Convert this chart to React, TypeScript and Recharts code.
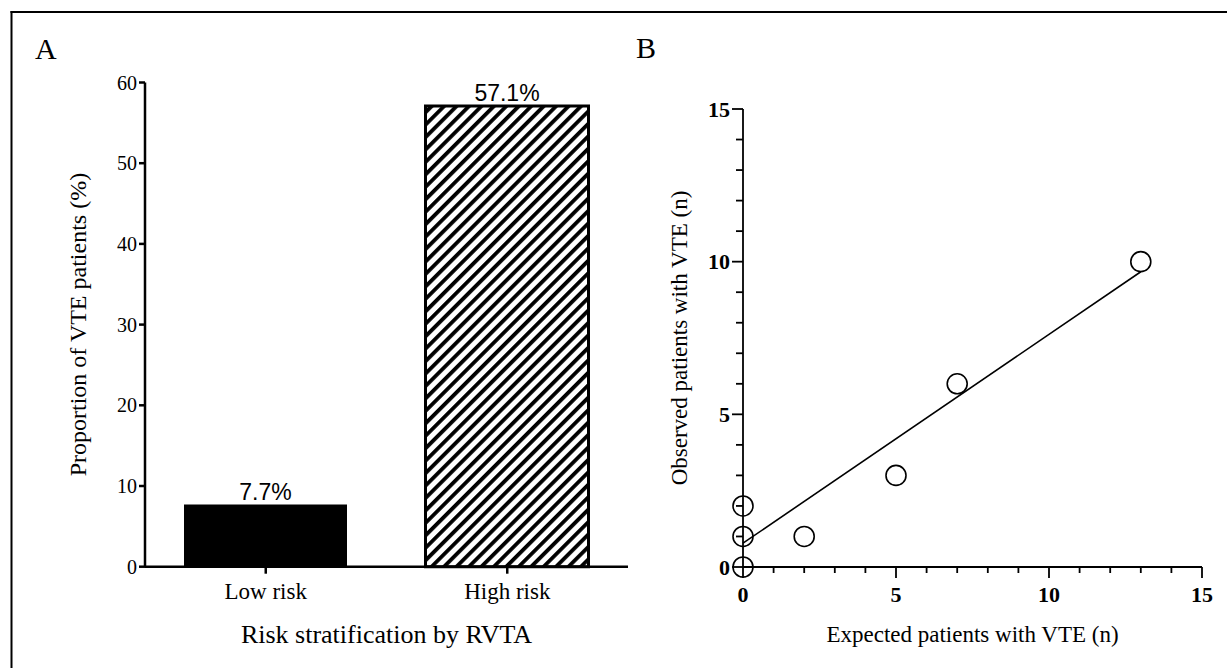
import React from 'react';
import {
  BarChart,
  Bar,
  XAxis,
  YAxis,
  Cell,
  LabelList,
  ScatterChart,
  Scatter,
  ReferenceLine,
} from 'recharts';

// ---- Panel A data ----
const riskCategories = ['Low risk', 'High risk'];
const vteProportion = [7.7, 57.1];
const proportionLabels = ['7.7%', '57.1%'];
const proportionTicks = [0, 10, 20, 30, 40, 50, 60];

// ---- Panel B data ----
const expectedVTE = [0, 0, 0, 2, 5, 7, 13];
const observedVTE = [0, 1, 2, 1, 3, 6, 10];
const fitLineX = [0, 13];
const fitLineY = [0.78, 9.67];
const countTicks = [0, 1, 2, 3, 4, 5, 6, 7, 8, 9, 10, 11, 12, 13, 14, 15];
const majorCountTicks = [0, 5, 10, 15];

const barData = riskCategories.map((c, i) => ({
  category: c,
  value: vteProportion[i],
  label: proportionLabels[i],
}));
const scatterData = expectedVTE.map((x, i) => ({ x, y: observedVTE[i] }));

const SERIF = "'Liberation Serif', 'Times New Roman', serif";
const SANS = "'Liberation Sans', Arial, sans-serif";

const YTickB = (props: any) => {
  const { x, y, payload } = props;
  const v = payload.value;
  const major = majorCountTicks.includes(v);
  const len = major ? 11 : 7;
  return (
    <g>
      <line x1={x - len} x2={x} y1={y} y2={y} stroke="#000" strokeWidth={1.8} />
      {major && (
        <text
          x={x - len - 2}
          y={y}
          dy="0.35em"
          textAnchor="end"
          fontFamily={SERIF}
          fontWeight="bold"
          fontSize={22}
          fill="#000"
        >
          {v}
        </text>
      )}
    </g>
  );
};

const XTickB = (props: any) => {
  const { x, y, payload } = props;
  const v = payload.value;
  const major = majorCountTicks.includes(v);
  const len = major ? 11 : 6;
  return (
    <g>
      <line x1={x} x2={x} y1={y} y2={y + len} stroke="#000" strokeWidth={1.8} />
      {major && (
        <text
          x={x}
          y={y + 35}
          textAnchor="middle"
          fontFamily={SERIF}
          fontWeight="bold"
          fontSize={22}
          fill="#000"
        >
          {v}
        </text>
      )}
    </g>
  );
};

const OpenCircle = (props: any) => {
  const { cx, cy } = props;
  return <circle cx={cx} cy={cy} r={10} fill="none" stroke="#000" strokeWidth={1.6} />;
};

export default function App() {
  return (
    <div
      style={{
        position: 'absolute',
        left: 0,
        top: 0,
        width: 1227,
        height: 668,
        background: '#fff',
        overflow: 'hidden',
      }}
    >
      <div style={{ position: 'absolute', left: 0, top: 0 }}>
        <BarChart
          width={640}
          height={668}
          data={barData}
          margin={{ top: 82.5, left: 85, right: 12, bottom: 61.3 }}
        >
          <defs>
            <pattern
              id="hatch"
              patternUnits="userSpaceOnUse"
              width={8.8}
              height={10}
              patternTransform="rotate(45)"
            >
              <rect x={0} y={0} width={8.8} height={10} fill="#fff" />
              <rect x={0} y={0} width={3.8} height={10} fill="#000" />
            </pattern>
          </defs>
          <XAxis
            dataKey="category"
            height={40}
            axisLine={{ stroke: '#000', strokeWidth: 2.5 }}
            tickLine={{ stroke: '#000', strokeWidth: 2.5 }}
            tickSize={7}
            tickMargin={9}
            tick={{ fill: '#000', fontSize: 23, fontFamily: SERIF }}
            label={{
              value: 'Risk stratification by RVTA',
              position: 'bottom',
              offset: 18,
              style: { fill: '#000', fontSize: 26, fontFamily: SERIF },
            }}
          />
          <YAxis
            type="number"
            domain={[0, 60]}
            ticks={proportionTicks}
            width={60}
            axisLine={{ stroke: '#000', strokeWidth: 2.5 }}
            tickLine={{ stroke: '#000', strokeWidth: 2.5 }}
            tickSize={6}
            tickMargin={2}
            tick={{ fill: '#000', fontSize: 20, fontFamily: SERIF }}
            label={{
              value: 'Proportion of VTE patients (%)',
              angle: -90,
              position: 'left',
              offset: 8,
              style: { fill: '#000', fontSize: 24, fontFamily: SERIF, textAnchor: 'middle' },
            }}
          />
          <Bar dataKey="value" barSize={163} isAnimationActive={false}>
            {barData.map((d, i) => (
              <Cell
                key={d.category}
                fill={i === 0 ? '#000' : 'url(#hatch)'}
                stroke="#000"
                strokeWidth={i === 0 ? 0 : 3}
              />
            ))}
            <LabelList
              dataKey="label"
              position="top"
              offset={5}
              style={{ fill: '#000', fontSize: 23, fontFamily: SANS }}
            />
          </Bar>
        </BarChart>
      </div>

      <div style={{ position: 'absolute', left: 640, top: 0 }}>
        <ScatterChart
          width={587}
          height={668}
          margin={{ top: 109, left: 43, right: 25, bottom: 61 }}
        >
          <XAxis
            type="number"
            dataKey="x"
            domain={[0, 15]}
            ticks={countTicks}
            interval={0}
            height={40}
            axisLine={{ stroke: '#000', strokeWidth: 1.8 }}
            tickLine={false}
            tickSize={0}
            tickMargin={0}
            tick={<XTickB />}
            label={{
              value: 'Expected patients with VTE (n)',
              position: 'bottom',
              offset: 19,
              style: { fill: '#000', fontSize: 23, fontFamily: SERIF },
            }}
          />
          <YAxis
            type="number"
            dataKey="y"
            domain={[0, 15]}
            ticks={countTicks}
            interval={0}
            width={60}
            axisLine={{ stroke: '#000', strokeWidth: 1.8 }}
            tickLine={false}
            tickSize={0}
            tickMargin={0}
            tick={<YTickB />}
            label={{
              value: 'Observed patients with VTE (n)',
              angle: -90,
              position: 'left',
              offset: 4,
              style: { fill: '#000', fontSize: 23, fontFamily: SERIF, textAnchor: 'middle' },
            }}
          />
          <ReferenceLine
            segment={[
              { x: fitLineX[0], y: fitLineY[0] },
              { x: fitLineX[1], y: fitLineY[1] },
            ]}
            stroke="#000"
            strokeWidth={1.6}
          />
          <Scatter data={scatterData} shape={<OpenCircle />} isAnimationActive={false} />
        </ScatterChart>
      </div>

      <svg
        width={1227}
        height={668}
        style={{ position: 'absolute', left: 0, top: 0, pointerEvents: 'none' }}
      >
        <line x1={11.5} y1={11} x2={11.5} y2={668} stroke="#000" strokeWidth={2} />
        <line x1={10.5} y1={12} x2={1227} y2={12} stroke="#000" strokeWidth={2} />
        <text x={35} y={59} fontFamily={SERIF} fontSize={30} fill="#000">
          A
        </text>
        <text x={636} y={58} fontFamily={SERIF} fontSize={30} fill="#000">
          B
        </text>
      </svg>
    </div>
  );
}
